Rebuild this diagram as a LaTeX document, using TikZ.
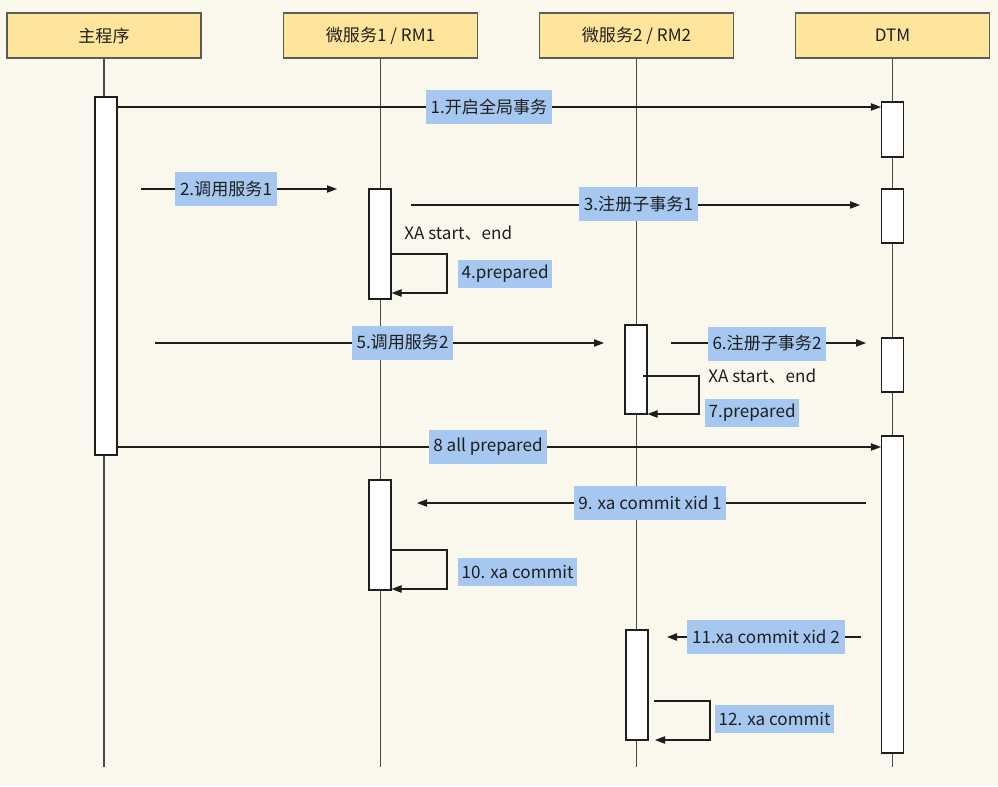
\documentclass[tikz,border=0pt]{standalone}
\usepackage{fontspec}
\newfontfamily\cjk{Noto Sans CJK SC}
\usepackage{tikz}
\usetikzlibrary{arrows.meta,positioning}
\definecolor{paper}{HTML}{FAF8EC}
\definecolor{headfill}{HTML}{FFE59B}
\definecolor{headline}{HTML}{5A5A5A}
\definecolor{labelfill}{HTML}{A6C8F0}
\definecolor{ink}{HTML}{1E1E1E}
\definecolor{lifeline}{HTML}{4A4A4A}

\begin{document}
\begin{tikzpicture}[
  x=0.75pt, y=-0.75pt,
  font=\cjk\fontsize{12.8}{15}\selectfont,
  header/.style={draw=headline, fill=headfill, line width=0.9pt, minimum width=145.5pt,
                 minimum height=33.75pt, text=ink},
  act/.style={draw=ink, fill=white, line width=0.8pt, minimum width=16.5pt,
              minimum height={#1*0.75pt}, inner sep=0pt},
  life/.style={draw=lifeline, line width=0.8pt},
  msg/.style={draw=ink, line width=0.8pt, -{Triangle[length=7.5pt,width=5.5pt]}},
  lbl/.style={fill=labelfill, minimum height=25.5pt, inner xsep=3.5pt, text=ink},
  lblsm/.style={lbl, minimum height=21pt, inner xsep=2.5pt, anchor=west},
  note/.style={inner sep=0pt, anchor=west, text=ink}
]

% Background
\fill[paper] (0,0) rectangle (998,786);

% Participants (Top)
\node[header] (h0) at (104,35.5) {主程序};
\node[header] (h1) at (380.5,35.5) {微服务1 / RM1};
\node[header] (h2) at (636.5,35.5) {微服务2 / RM2};
\node[header] (h3) at (892.5,35.5) {DTM};

% Lifelines
\coordinate (bot) at (0,767);
\draw[life] (h0.south) -- (h0.south |- bot);
\draw[life] (h1.south) -- (h1.south |- bot);
\draw[life] (h2.south) -- (h2.south |- bot);
\draw[life] (h3.south) -- (h3.south |- bot);

% Activation bars
\node[act=358] (a0) at (106,276) {};
\node[act=55] (d1) at (892.5,129.5) {};
\node[act=54] (d2) at (892.5,216) {};
\node[act=54] (d3) at (892.5,365) {};
\node[act=317] (d4) at (892.5,594.5) {};
\node[act=110] (r1a) at (380,244) {};
\node[act=110] (r1b) at (380,535) {};
\node[act=89] (r2a) at (636,369.5) {};
\node[act=110] (r2b) at (637,685) {};

% 1: open global transaction
\coordinate (m1) at (0,107);
\draw[msg] (a0.east |- m1) -- (d1.west |- m1);
\node[lbl] (l1) at (489,107) {1.开启全局事务};

% 2: call service 1
\coordinate (m2s) at (141,189);
\coordinate (m2e) at (337,189);
\draw[msg] (m2s) -- (m2e);
\node[lbl] (l2) at (226,189) {2.调用服务1};

% 3: register branch 1
\coordinate (m3s) at (411,205);
\coordinate (m3e) at (860,205);
\draw[msg] (m3s) -- (m3e);
\node[lbl] (l3) at (638.5,204) {3.注册子事务1};

% 4: prepared (self)
\node[note] (x1) at (404,233) {XA start、end};
\coordinate (k4a) at (447,254);
\coordinate (k4b) at (447,293);
\draw[msg] (r1a.east |- k4a) -- (k4a) -- (k4b) -- (r1a.east |- k4b);
\node[lblsm] (l4) at (458,274) {4.prepared};

% 5: call service 2
\coordinate (m5s) at (155,343);
\coordinate (m5e) at (604,343);
\draw[msg] (m5s) -- (m5e);
\node[lbl] (l5) at (402.5,342.5) {5.调用服务2};

% 6: register branch 2
\coordinate (m6s) at (671,343);
\coordinate (m6e) at (866,343);
\draw[msg] (m6s) -- (m6e);
\node[lbl] (l6) at (767,343.5) {6.注册子事务2};

% 7: prepared (self)
\node[note] (x2) at (708,376) {XA start、end};
\coordinate (k7s) at (643,376);
\coordinate (k7a) at (699,376);
\coordinate (k7b) at (699,414);
\draw[msg] (k7s) -- (k7a) -- (k7b) -- (r2a.east |- k7b);
\node[lblsm] (l7) at (705,413) {7.prepared};

% 8: all prepared
\coordinate (m8) at (0,447);
\draw[msg] (a0.east |- m8) -- (d4.west |- m8);
\node[lbl] (l8) at (488,447) {8 all prepared};

% 9: commit branch 1
\coordinate (m9s) at (866,503);
\coordinate (m9e) at (417,503);
\draw[msg] (m9s) -- (m9e);
\node[lbl] (l9) at (650,503) {9. xa commit xid 1};

% 10: xa commit (self)
\coordinate (k10a) at (447,550);
\coordinate (k10b) at (447,589);
\draw[msg] (r1b.east |- k10a) -- (k10a) -- (k10b) -- (r1b.east |- k10b);
\node[lblsm] (l10) at (458,571.5) {10. xa commit};

% 11: commit branch 2
\coordinate (m11s) at (861,637);
\coordinate (m11e) at (667,637);
\draw[msg] (m11s) -- (m11e);
\node[lbl] (l11) at (766,637) {11.xa commit xid 2};

% 12: xa commit (self)
\coordinate (k12s) at (654,701);
\coordinate (k12a) at (710,701);
\coordinate (k12b) at (710,740);
\coordinate (k12e) at (655,740);
\draw[msg] (k12s) -- (k12a) -- (k12b) -- (k12e);
\node[lblsm] (l12) at (715,718.5) {12. xa commit};

\end{tikzpicture}
\end{document}
